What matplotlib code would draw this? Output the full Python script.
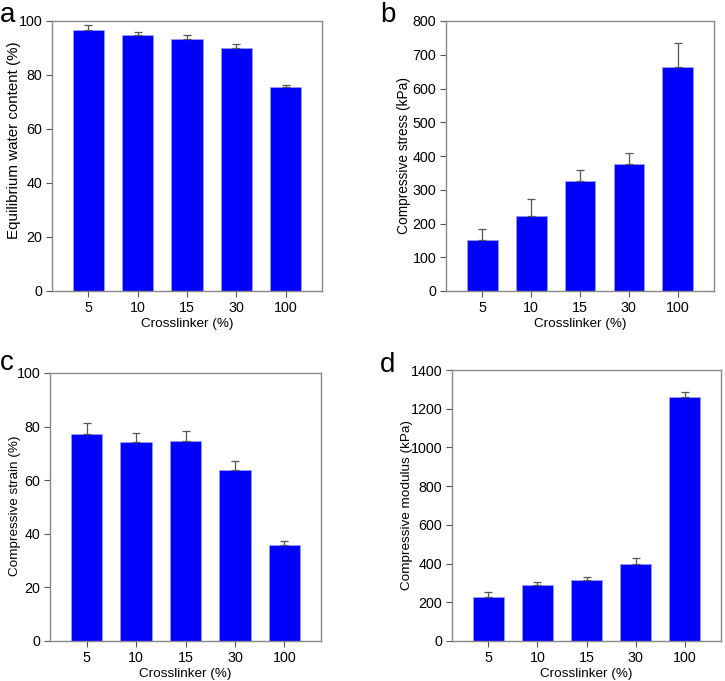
import numpy as np
import matplotlib
matplotlib.use("Agg")
import matplotlib.pyplot as plt

plt.rcParams['font.family'] = ['Liberation Sans', 'DejaVu Sans']

crosslinker = ['5', '10', '15', '30', '100']

water = [96.8, 94.8, 93.3, 90.0, 75.7]
water_err = [1.8, 1.3, 1.5, 1.6, 0.7]

stress = [151, 222, 327, 375, 665]
stress_err = [33, 51, 31, 33, 71]

strain = [77.4, 74.4, 74.7, 63.9, 35.9]
strain_err = [4.0, 3.2, 3.6, 3.2, 1.6]

modulus = [226, 291, 313, 396, 1259]
modulus_err = [27, 12, 18, 35, 28]

# letter, values, errors, ylabel, label size, ymax, step, axes box (px), ylabel centre (px), letter pos (px)
panels = [
    ('a', water, water_err, 'Equilibrium water content (%)', 10.9, 100, 20,
     [52, 21, 322, 291], (15, 140), (0, 22)),
    ('b', stress, stress_err, 'Compressive stress (kPa)', 9.9, 800, 100,
     [446, 21, 714, 291], (405, 155), (380, 22)),
    ('c', strain, strain_err, 'Compressive strain (%)', 9.7, 100, 20,
     [50, 373, 321, 641], (15, 506), (0, 370)),
    ('d', modulus, modulus_err, 'Compressive modulus (kPa)', 9.7, 1400, 200,
     [452, 370, 721, 641], (407, 505), (380, 372)),
]

W, H = 725, 681
fig = plt.figure(figsize=(W / 100, H / 100), dpi=100)

for letter, vals, errs, ylabel, lsize, ymax, step, box, lab, lpos in panels:
    x0, y0, x1, y1 = box
    ax = fig.add_axes([x0 / W, 1 - y1 / H, (x1 - x0) / W, (y1 - y0) / H])
    x = np.arange(len(crosslinker))
    ax.bar(x, vals, width=0.63, color='#0000ff', edgecolor='#9999ff', linewidth=0.6, zorder=2)
    ax.errorbar(x, vals, yerr=[np.zeros(len(vals)), errs], fmt='none', ecolor='#555555',
                elinewidth=0.9, capsize=3, capthick=0.9, zorder=3)
    ax.set_xlim(-0.74, 4.74)
    ax.set_ylim(0, ymax)
    ax.set_yticks(np.arange(0, ymax + 1, step))
    ax.set_xticks(x)
    ax.set_xticklabels(crosslinker)
    ax.tick_params(direction='out', length=4, width=0.8, color='#555555', labelsize=10.3,
                   pad=3, top=False, right=False)
    for s in ax.spines.values():
        s.set_color('#888888')
        s.set_linewidth(1.0)
    ax.set_xlabel('Crosslinker (%)', fontsize=9.7, labelpad=2)
    ax.set_ylabel(ylabel, fontsize=lsize)
    # label anchor is the right side of the rotated text (~6 px from centre)
    ax.yaxis.set_label_coords((lab[0] + 6 - x0) / (x1 - x0), (y1 - lab[1]) / (y1 - y0))
    fig.text(lpos[0] / W, 1 - lpos[1] / H, letter, fontsize=20, ha='left', va='baseline')

fig.savefig('out.png', dpi=100)
